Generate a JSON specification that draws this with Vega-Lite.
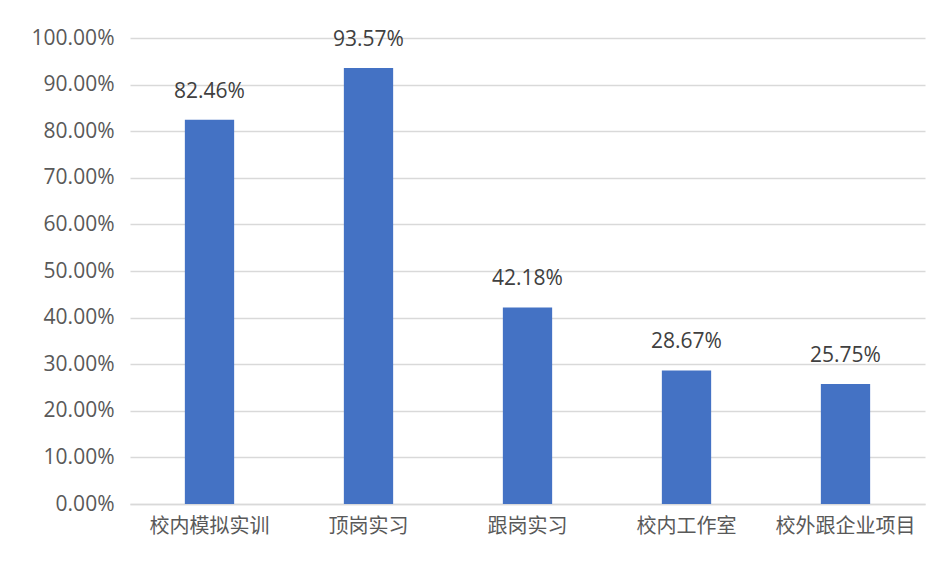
{
  "$schema": "https://vega.github.io/schema/vega-lite/v6.json",
  "autosize": "none",
  "width": 795,
  "height": 466,
  "padding": {"left": 130, "top": 38, "right": 24, "bottom": 61},
  "background": "white",
  "config": {"view": {"stroke": null}},
  "data": {"values": [
    {"方式": "校内模拟实训", "比例": 0.8246},
    {"方式": "顶岗实习", "比例": 0.9357},
    {"方式": "跟岗实习", "比例": 0.4218},
    {"方式": "校内工作室", "比例": 0.2867},
    {"方式": "校外跟企业项目", "比例": 0.2575}
  ]},
  "encoding": {
    "x": {"field": "方式", "type": "nominal", "sort": null,
      "scale": {"paddingInner": 0.69, "paddingOuter": 0.345},
      "axis": {"title": null, "labelAngle": 0, "ticks": false, "domainColor": "#d9d9d9", "domainWidth": 1.5,
        "labelFont": "Noto Sans CJK SC", "labelFontSize": 20, "labelColor": "#595959", "labelPadding": 12}},
    "y": {"field": "比例", "type": "quantitative",
      "scale": {"domain": [0, 1]},
      "axis": {"title": null, "format": ".2%", "values": [0,0.1,0.2,0.3,0.4,0.5,0.6,0.7,0.8,0.9,1.0],
        "labelOverlap": false, "labelBound": false,
        "domain": false, "ticks": false, "gridColor": "#d9d9d9", "gridWidth": 1.5,
        "labelFont": "Open Sans", "labelFontSize": 21, "labelColor": "#595959", "labelPadding": 16}}
  },
  "layer": [
    {"mark": {"type": "bar", "color": "#4472C4"}},
    {"mark": {"type": "text", "baseline": "bottom", "dy": -18, "font": "Open Sans", "fontSize": 21, "color": "#404040"},
      "encoding": {"text": {"field": "比例", "type": "quantitative", "format": ".2%"}}}
  ]
}
